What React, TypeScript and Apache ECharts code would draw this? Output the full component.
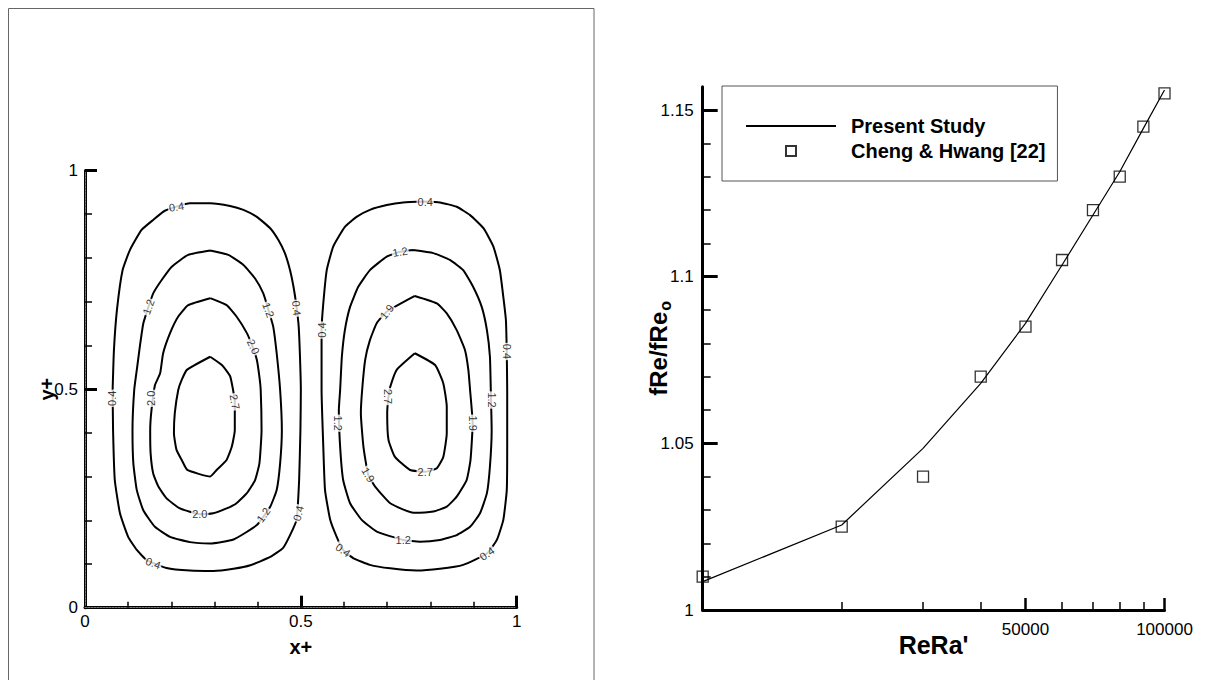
import React, { useEffect, useRef } from 'react';
import * as echarts from 'echarts';

const FONT = '"Liberation Sans", Arial, Helvetica, sans-serif';

// ---------- Left panel: streamline contours (x+, y+) ----------
const leftC04: number[][] = [[0.064,0.498],[0.067,0.589],[0.074,0.681],[0.087,0.772],[0.104,0.818],[0.131,0.864],[0.158,0.887],[0.185,0.908],[0.243,0.925],[0.290,0.925],[0.336,0.919],[0.367,0.910],[0.398,0.894],[0.429,0.868],[0.448,0.841],[0.463,0.811],[0.475,0.772],[0.483,0.734],[0.490,0.688],[0.495,0.643],[0.498,0.574],[0.500,0.498],[0.499,0.406],[0.496,0.292],[0.490,0.201],[0.475,0.166],[0.459,0.137],[0.429,0.116],[0.383,0.097],[0.344,0.089],[0.297,0.084],[0.243,0.085],[0.189,0.091],[0.143,0.109],[0.120,0.132],[0.100,0.162],[0.081,0.216],[0.069,0.292],[0.065,0.406]];
const leftC12: number[][] = [[0.290,0.817],[0.332,0.807],[0.367,0.784],[0.394,0.753],[0.413,0.719],[0.425,0.681],[0.436,0.643],[0.444,0.582],[0.452,0.498],[0.456,0.406],[0.452,0.330],[0.444,0.269],[0.429,0.231],[0.398,0.189],[0.344,0.156],[0.290,0.147],[0.243,0.150],[0.197,0.162],[0.162,0.185],[0.135,0.223],[0.120,0.269],[0.112,0.330],[0.110,0.406],[0.114,0.498],[0.120,0.544],[0.127,0.597],[0.135,0.650],[0.147,0.688],[0.158,0.719],[0.178,0.750],[0.201,0.780],[0.239,0.807]];
const leftC20: number[][] = [[0.290,0.708],[0.328,0.692],[0.351,0.666],[0.375,0.628],[0.388,0.597],[0.398,0.567],[0.404,0.528],[0.407,0.498],[0.409,0.406],[0.404,0.330],[0.394,0.292],[0.375,0.262],[0.351,0.239],[0.328,0.227],[0.297,0.216],[0.266,0.214],[0.220,0.227],[0.189,0.250],[0.170,0.277],[0.158,0.307],[0.152,0.353],[0.151,0.406],[0.154,0.452],[0.162,0.509],[0.174,0.536],[0.181,0.582],[0.197,0.628],[0.216,0.666],[0.239,0.692]];
const leftC27: number[][] = [[0.290,0.574],[0.317,0.555],[0.336,0.530],[0.343,0.498],[0.347,0.470],[0.347,0.406],[0.340,0.368],[0.328,0.338],[0.305,0.315],[0.290,0.300],[0.237,0.315],[0.224,0.338],[0.212,0.361],[0.206,0.399],[0.208,0.445],[0.216,0.498],[0.224,0.521],[0.236,0.544]];
const rightC04: number[][] = [[0.788,0.929],[0.822,0.927],[0.861,0.917],[0.892,0.898],[0.923,0.868],[0.946,0.826],[0.961,0.772],[0.969,0.711],[0.975,0.658],[0.977,0.582],[0.978,0.498],[0.978,0.368],[0.977,0.269],[0.969,0.201],[0.954,0.155],[0.931,0.124],[0.876,0.098],[0.822,0.089],[0.768,0.085],[0.707,0.090],[0.660,0.098],[0.622,0.113],[0.598,0.132],[0.583,0.162],[0.568,0.201],[0.556,0.269],[0.552,0.368],[0.548,0.498],[0.548,0.635],[0.552,0.696],[0.560,0.772],[0.575,0.826],[0.602,0.871],[0.629,0.894],[0.660,0.910],[0.699,0.921],[0.737,0.927]];
const rightC12: number[][] = [[0.760,0.818],[0.807,0.811],[0.846,0.795],[0.876,0.772],[0.899,0.734],[0.919,0.688],[0.931,0.635],[0.938,0.574],[0.940,0.498],[0.942,0.406],[0.938,0.323],[0.931,0.262],[0.915,0.216],[0.892,0.185],[0.861,0.166],[0.822,0.155],[0.776,0.151],[0.737,0.155],[0.676,0.174],[0.641,0.201],[0.614,0.239],[0.598,0.292],[0.591,0.368],[0.588,0.452],[0.591,0.498],[0.595,0.574],[0.602,0.635],[0.614,0.688],[0.633,0.734],[0.660,0.772],[0.699,0.803],[0.730,0.814]];
const rightC19: number[][] = [[0.764,0.713],[0.815,0.696],[0.838,0.673],[0.861,0.635],[0.880,0.590],[0.888,0.544],[0.892,0.498],[0.898,0.422],[0.893,0.338],[0.884,0.292],[0.861,0.254],[0.838,0.231],[0.807,0.220],[0.761,0.217],[0.707,0.239],[0.672,0.277],[0.656,0.304],[0.645,0.368],[0.639,0.445],[0.642,0.498],[0.649,0.567],[0.660,0.612],[0.676,0.651],[0.699,0.677]];
const rightC27: number[][] = [[0.764,0.582],[0.811,0.555],[0.830,0.513],[0.838,0.460],[0.838,0.399],[0.830,0.345],[0.815,0.319],[0.788,0.311],[0.753,0.315],[0.718,0.345],[0.703,0.384],[0.700,0.445],[0.703,0.483],[0.707,0.505],[0.722,0.544]];

// contour labels: [x+, y+, text, rotation]
const contourLabels: (number | string)[][] = [
  [0.212,0.917,'0.4',8],[0.062,0.479,'0.4',90],[0.158,0.102,'0.4',-20],[0.490,0.685,'0.4',-85],[0.494,0.216,'0.4',75],
  [0.147,0.688,'1.2',70],[0.425,0.681,'1.2',-70],[0.413,0.212,'1.2',55],
  [0.390,0.597,'2.0',-65],[0.154,0.479,'2.0',90],[0.266,0.214,'2.0',0],[0.347,0.471,'2.7',-80],
  [0.788,0.929,'0.4',0],[0.548,0.635,'0.4',90],[0.977,0.586,'0.4',-90],[0.598,0.132,'0.4',-35],[0.931,0.124,'0.4',35],
  [0.730,0.814,'1.2',10],[0.587,0.422,'1.2',-90],[0.942,0.475,'1.2',-90],[0.737,0.155,'1.2',0],
  [0.699,0.677,'1.9',50],[0.898,0.422,'1.9',-90],[0.656,0.304,'1.9',-60],
  [0.703,0.483,'2.7',-90],[0.788,0.311,'2.7',0],
];

const leftMinorTicks = [0.1, 0.2, 0.3, 0.4, 0.6, 0.7, 0.8, 0.9];
const leftMajorTicks = [0.5, 1];
const leftLabels = [0, 0.5, 1];

// ---------- Right panel ----------
const reRa = [10000, 20000, 30000, 40000, 50000, 60000, 70000, 80000, 90000, 100000];
const presentStudy = [1.0085, 1.0255, 1.0485, 1.068, 1.086, 1.1035, 1.1185, 1.1315, 1.1445, 1.156];
const chengHwang = [1.010, 1.025, 1.040, 1.070, 1.085, 1.105, 1.120, 1.130, 1.145, 1.155];
const reRaMinorTicks = [20000, 30000, 40000, 60000, 70000, 80000, 90000];
const reRaMajorTicks = [50000, 100000];
const fReMinorTicks = [1.01, 1.02, 1.03, 1.04, 1.06, 1.07, 1.08, 1.09, 1.11, 1.12, 1.13, 1.14];
const fReMajorTicks = [1.05, 1.1, 1.15];
const fReLabels = [1, 1.05, 1.1, 1.15];

const labelStyle = { color: '#000', fontFamily: FONT, fontSize: 17 };

export default function App() {
  const ref = useRef<HTMLDivElement>(null);
  useEffect(() => {
    if (!ref.current) return;
    const chart = echarts.init(ref.current, undefined, { renderer: 'svg' });
    const contour = (name: string, pts: number[][]) => ({
      name, type: 'line', xAxisIndex: 0, yAxisIndex: 0,
      data: [...pts, pts[0]], symbol: 'none', smooth: 0.15,
      lineStyle: { color: '#000', width: 2 }, silent: true, z: 3,
    });
    const leftX = { gridIndex: 0, type: 'value', min: 0, max: 1 };
    const leftY = { gridIndex: 0, type: 'value', min: 0, max: 1 };
    const rightX = { gridIndex: 1, type: 'log', logBase: 10, min: 10000, max: 100000 };
    const rightY = { gridIndex: 1, type: 'value', min: 1, max: 1.157 };
    chart.setOption({
      animation: false,
      grid: [
        { left: 85, top: 170.5, width: 431.7, height: 437.2, containLabel: false, outerBoundsMode: 'none' },
        { left: 702.7, top: 86.7, width: 461.8, height: 523.3, containLabel: false, outerBoundsMode: 'none' },
      ],
      legend: {
        orient: 'vertical', left: 722, top: 86,
        padding: [30, 12, 20, 23], itemWidth: 90, itemHeight: 10, itemGap: 5,
        borderColor: '#555', borderWidth: 1, selectedMode: false, symbolKeepAspect: true,
        data: [
          { name: 'Present Study', itemStyle: { opacity: 0 } },
          { name: 'Cheng & Hwang [22]', icon: 'path://M0,0 L10,0 L10,10 L0,10 Z' },
        ],
        textStyle: { color: '#000', fontFamily: FONT, fontSize: 20, fontWeight: 'bold', padding: [0, 0, 0, 10] },
      },
      xAxis: [
        { ...leftX, position: 'bottom', name: 'x+', nameLocation: 'middle', nameGap: 29, nameMoveOverlap: false,
          nameTextStyle: { color: '#000', fontFamily: FONT, fontSize: 20, fontWeight: 'bold' },
          axisLine: { lineStyle: { color: '#000', width: 3 } },
          axisTick: { inside: true, length: 6, lineStyle: { color: '#000', width: 1.5 }, customValues: leftMinorTicks },
          axisLabel: { ...labelStyle, margin: 5, customValues: leftLabels },
          splitLine: { show: false } },
        { ...leftX, position: 'bottom', axisLine: { show: false }, axisLabel: { show: false }, splitLine: { show: false },
          axisTick: { inside: true, length: 12, lineStyle: { color: '#000', width: 3 }, customValues: leftMajorTicks } },
        { ...leftX, position: 'top', axisLine: { lineStyle: { color: '#777', width: 1, type: [2, 1] } },
          axisTick: { show: false }, axisLabel: { show: false }, splitLine: { show: false } },
        { ...rightX, position: 'bottom', name: "ReRa'", nameLocation: 'middle', nameGap: 22, nameMoveOverlap: false,
          nameTextStyle: { color: '#000', fontFamily: FONT, fontSize: 25, fontWeight: 'bold' },
          axisLine: { lineStyle: { color: '#000', width: 3 } },
          axisTick: { inside: true, length: 8, lineStyle: { color: '#000', width: 1.5 }, customValues: reRaMinorTicks },
          axisLabel: { ...labelStyle, margin: 11, customValues: reRaMajorTicks, formatter: (v: number) => String(Math.round(v)) },
          splitLine: { show: false }, minorTick: { show: false } },
        { ...rightX, position: 'bottom', axisLine: { show: false }, axisLabel: { show: false }, splitLine: { show: false },
          axisTick: { inside: true, length: 12, lineStyle: { color: '#000', width: 2.5 }, customValues: reRaMajorTicks } },
      ],
      yAxis: [
        { ...leftY, position: 'left', name: 'y+', nameLocation: 'middle', nameRotate: 90, nameGap: 28, nameMoveOverlap: false,
          nameTextStyle: { color: '#000', fontFamily: FONT, fontSize: 20, fontWeight: 'bold' },
          axisLine: { lineStyle: { color: '#000', width: 3 } },
          axisTick: { inside: true, length: 7, lineStyle: { color: '#000', width: 1.5 }, customValues: leftMinorTicks },
          axisLabel: { ...labelStyle, margin: 7, customValues: leftLabels },
          splitLine: { show: false } },
        { ...leftY, position: 'left', axisLine: { show: false }, axisLabel: { show: false }, splitLine: { show: false },
          axisTick: { inside: true, length: 12, lineStyle: { color: '#000', width: 3 }, customValues: leftMajorTicks } },
        { ...leftY, position: 'right', axisLine: { lineStyle: { color: '#777', width: 1, type: [2, 1] } },
          axisTick: { show: false }, axisLabel: { show: false }, splitLine: { show: false } },
        { ...rightY, position: 'left', name: '{a|fRe/fRe}{b|o}', nameLocation: 'middle', nameRotate: 90, nameGap: 29,
          nameMoveOverlap: false,
          nameTextStyle: { color: '#000', rich: {
            a: { fontFamily: FONT, fontSize: 24, fontWeight: 'bold', color: '#000' },
            b: { fontFamily: FONT, fontSize: 16, fontWeight: 'bold', color: '#000', padding: [14, 0, 0, 1] },
          } },
          axisLine: { lineStyle: { color: '#000', width: 3 } },
          axisTick: { inside: true, length: 8, lineStyle: { color: '#000', width: 1.5 }, customValues: fReMinorTicks },
          axisLabel: { ...labelStyle, margin: 9, customValues: fReLabels },
          splitLine: { show: false } },
        { ...rightY, position: 'left', axisLine: { show: false }, axisLabel: { show: false }, splitLine: { show: false },
          axisTick: { inside: true, length: 15, lineStyle: { color: '#000', width: 3 }, customValues: fReMajorTicks } },
      ],
      graphic: [
        { type: 'rect', shape: { x: 8.5, y: 8.5, width: 585.5, height: 700 },
          style: { fill: 'none', stroke: '#666', lineWidth: 1 }, silent: true },
      ],
      series: [
        contour('L0.4', leftC04), contour('L1.2', leftC12), contour('L2.0', leftC20), contour('L2.7', leftC27),
        contour('R0.4', rightC04), contour('R1.2', rightC12), contour('R1.9', rightC19), contour('R2.7', rightC27),
        {
          name: 'labels', type: 'scatter', xAxisIndex: 0, yAxisIndex: 0, symbolSize: 1, silent: true, z: 5,
          itemStyle: { color: 'transparent' },
          data: contourLabels.map(([x, y, t, r]) => ({ value: [x, y, t], label: { rotate: r } })),
          label: { show: true, position: 'inside', formatter: (p: any) => p.value[2],
            fontFamily: FONT, fontSize: 11, color: '#000', backgroundColor: '#fff', padding: [0, 1] },
        },
        {
          name: 'Present Study', type: 'line', xAxisIndex: 3, yAxisIndex: 3, symbol: 'none',
          data: reRa.map((x, i) => [x, presentStudy[i]]),
          lineStyle: { color: '#000', width: 1.2 }, itemStyle: { color: '#000' },
        },
        {
          name: 'Cheng & Hwang [22]', type: 'scatter', xAxisIndex: 3, yAxisIndex: 3, symbol: 'rect', symbolSize: 11,
          data: reRa.map((x, i) => [x, chengHwang[i]]),
          itemStyle: { color: 'transparent', borderColor: '#000', borderWidth: 1.3 }, z: 4,
        },
      ],
    });
    return () => chart.dispose();
  }, []);
  return <div ref={ref} style={{ position: 'absolute', left: 0, top: 0, width: 1206, height: 680, background: '#fff' }} />;
}
